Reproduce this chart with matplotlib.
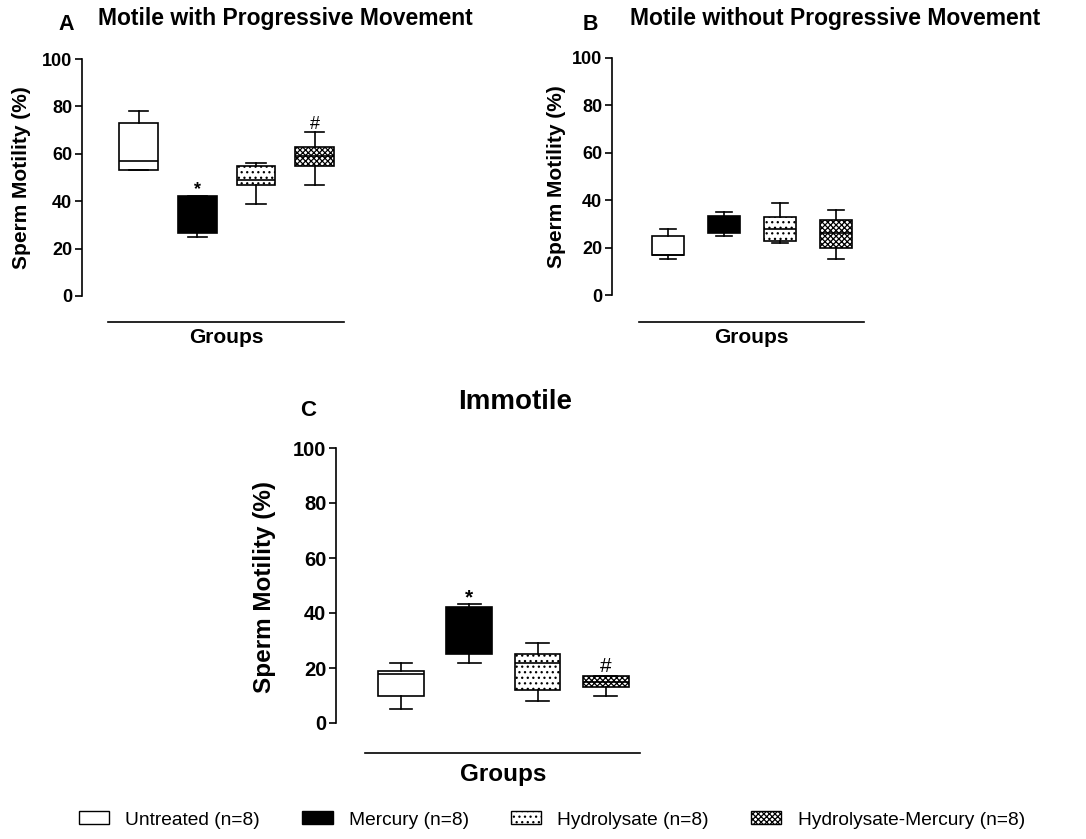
import matplotlib
matplotlib.use('Agg')
import matplotlib.pyplot as plt
from matplotlib.patches import Patch

plt.rcParams['font.family'] = ['Liberation Sans', 'DejaVu Sans']
plt.rcParams['hatch.linewidth'] = 0.9

groups = ['Untreated (n=8)', 'Mercury (n=8)', 'Hydrolysate (n=8)', 'Hydrolysate-Mercury (n=8)']
faces = ['white', 'black', 'white', 'white']
hatches = [None, None, '...', 'xxxxxx']

# Panel A: Motile with Progressive Movement
a_whislo = [53, 25, 39, 47]
a_q1 = [53, 26.5, 47, 55]
a_med = [57, 34, 49, 59]
a_q3 = [73, 42, 55, 63]
a_whishi = [78, 42, 56, 69]

# Panel B: Motile without Progressive Movement
b_whislo = [15, 25, 22, 15]
b_q1 = [16.8, 26.3, 22.7, 20]
b_med = [16.8, 30, 28, 26]
b_q3 = [25, 33.5, 32.8, 31.6]
b_whishi = [28, 35, 39, 36]

# Panel C: Immotile
c_whislo = [5, 22, 8, 10]
c_q1 = [10, 25, 12, 13]
c_med = [18, 34, 22, 15]
c_q3 = [19, 42.3, 25.2, 17]
c_whishi = [22, 43.2, 29, 17]

W, H = 1086, 839
fig = plt.figure(figsize=(W / 100, H / 100), dpi=100)


def px_rect(left, right, y0, y100):
    return [left / W, 1 - y0 / H, (right - left) / W, (y0 - y100) / H]


def panel(rect, xlim, width, whislo, q1, med, q3, whishi, tick_fs, groups_fs, line_y, text_y):
    ax = fig.add_axes(rect)
    stats = []
    for i in range(4):
        stats.append(dict(whislo=whislo[i], q1=q1[i], med=med[i], q3=q3[i], whishi=whishi[i]))
    lw = 1.2
    res = ax.bxp(stats, positions=[1, 2, 3, 4], widths=width, patch_artist=True,
                 showfliers=False,
                 boxprops=dict(linewidth=lw, edgecolor='black'),
                 whiskerprops=dict(linewidth=lw, color='black'),
                 capprops=dict(linewidth=lw, color='black'),
                 medianprops=dict(linewidth=lw, color='black'))
    for b, fc, h in zip(res['boxes'], faces, hatches):
        b.set_facecolor(fc)
        if h:
            b.set_hatch(h)
    ax.set_xlim(*xlim)
    ax.set_ylim(0, 100)
    ax.set_yticks([0, 20, 40, 60, 80, 100])
    ax.set_xticks([])
    for s in ['top', 'right', 'bottom']:
        ax.spines[s].set_visible(False)
    ax.spines['left'].set_linewidth(1.2)
    ax.tick_params(axis='y', labelsize=tick_fs, width=1.2, length=5, pad=2)
    for lab in ax.get_yticklabels():
        lab.set_fontweight('bold')
    ax.plot([0.48, 4.5], [line_y, line_y], color='black', lw=1.2, clip_on=False)
    ax.text(2.49, text_y, 'Groups', ha='center', va='center', fontsize=groups_fs,
            fontweight='bold', clip_on=False)
    return ax


axA = panel(px_rect(82, 344, 296, 59), (0.0375, 4.5), 0.66,
            a_whislo, a_q1, a_med, a_q3, a_whishi, 13, 15, -11, -17.7)
axB = panel(px_rect(612, 864, 295, 58), (0.0, 4.5), 0.58,
            b_whislo, b_q1, b_med, b_q3, b_whishi, 13, 15, -11.4, -18)
axC = panel(px_rect(336, 640, 723, 448), (0.048, 4.5), 0.67,
            c_whislo, c_q1, c_med, c_q3, c_whishi, 14.5, 17.5, -10.9, -18.9)

# significance marks
axA.text(2, 44.7, '*', ha='center', va='center', fontsize=13, fontweight='bold')
axA.text(4, 72.5, '#', ha='center', va='center', fontsize=13)
axC.text(2, 45.5, '*', ha='center', va='center', fontsize=15, fontweight='bold')
axC.text(4, 20.7, '#', ha='center', va='center', fontsize=15)

# titles and panel letters
fig.text(285 / W, 1 - 19 / H, 'Motile with Progressive Movement', ha='center', va='center',
         fontsize=16.5, fontweight='bold')
fig.text(835 / W, 1 - 19 / H, 'Motile without Progressive Movement', ha='center', va='center',
         fontsize=16.5, fontweight='bold')
fig.text(515 / W, 1 - 402 / H, 'Immotile', ha='center', va='center',
         fontsize=20, fontweight='bold')
fig.text(66 / W, 1 - 25 / H, 'A', ha='center', va='center', fontsize=15.5, fontweight='bold')
fig.text(590 / W, 1 - 25 / H, 'B', ha='center', va='center', fontsize=15.5, fontweight='bold')
fig.text(308 / W, 1 - 411 / H, 'C', ha='center', va='center', fontsize=16, fontweight='bold')

# y labels
fig.text(22 / W, 1 - 178 / H, 'Sperm Motility (%)', rotation=90, ha='center', va='center',
         fontsize=15, fontweight='bold')
fig.text(557 / W, 1 - 177 / H, 'Sperm Motility (%)', rotation=90, ha='center', va='center',
         fontsize=15, fontweight='bold')
fig.text(265 / W, 1 - 587 / H, 'Sperm Motility (%)', rotation=90, ha='center', va='center',
         fontsize=17.5, fontweight='bold')

handles = [Patch(facecolor=fc, edgecolor='black', hatch=h, linewidth=1.0)
           for fc, h in zip(faces, hatches)]
fig.legend(handles, groups, loc='center', bbox_to_anchor=(552 / W, 1 - 820 / H), ncol=4,
           frameon=False, prop={'size': 13.8},
           handlelength=1.57, handleheight=0.64, handletextpad=0.85, columnspacing=2.2)

fig.savefig('out.png', dpi=100)
